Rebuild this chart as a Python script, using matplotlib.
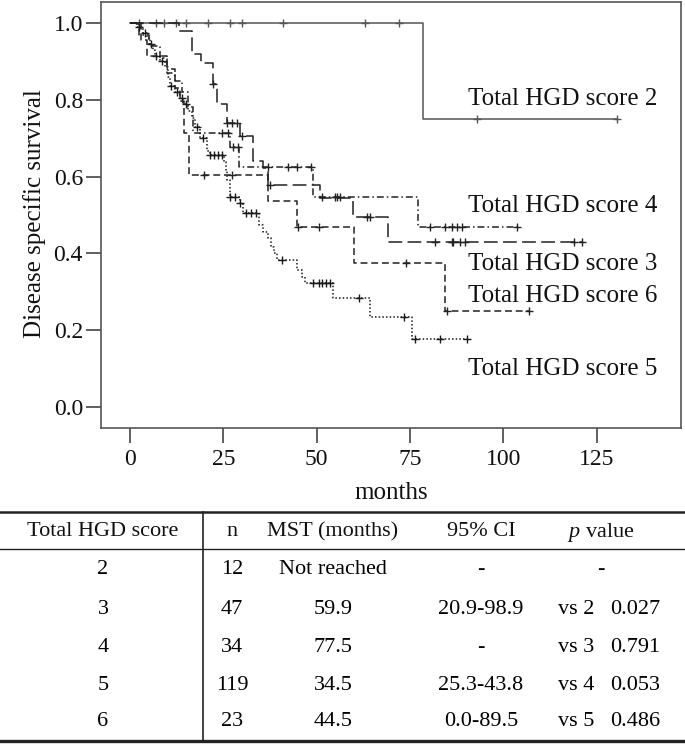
import numpy as np
import matplotlib
matplotlib.use("Agg")
import matplotlib.pyplot as plt
from matplotlib.lines import Line2D

plt.rcParams['font.family'] = ['Liberation Serif', 'DejaVu Serif']
plt.rcParams['mathtext.fontset'] = 'custom'
plt.rcParams['mathtext.rm'] = 'Liberation Serif'
plt.rcParams['mathtext.it'] = 'Liberation Serif:italic'

# Kaplan-Meier steps (months, survival after step)
t2 = [0, 78.5, 130.5]
s2 = [1.0, 0.75, 0.75]
c2 = [2.4, 7.0, 9.0, 12.3, 15.0, 21.0, 26.7, 30.0, 41.0, 63.0, 72.0, 93.0, 130.5]

t3 = [0, 13.0, 16.5, 19.0, 22.3, 23.2, 25.9, 29.5, 32.8, 35.5, 37.0, 51.0, 59.7, 69.1, 121.0]
s3 = [1.0, 0.979, 0.92, 0.895, 0.84, 0.79, 0.74, 0.706, 0.641, 0.623, 0.577, 0.545, 0.494, 0.43, 0.43]
c3 = [22.3, 25.9, 27.2, 28.6, 29.9, 37.5, 63.4, 64.3, 81.7, 86.2, 86.6, 88.4, 89.7, 118.8, 121.0]

t4 = [0, 2.5, 5.0, 8.0, 10.0, 12.0, 14.0, 15.5, 16.9, 26.8, 29.3, 49.1, 77.1, 103.6]
s4 = [1.0, 0.97, 0.94, 0.91, 0.88, 0.85, 0.82, 0.78, 0.714, 0.677, 0.625, 0.547, 0.469, 0.469]
c4 = [24.6, 26.3, 27.7, 29.0, 37.0, 42.4, 44.6, 48.4, 51.3, 54.9, 55.5, 56.3,
      80.4, 84.4, 86.2, 87.5, 88.8, 103.6]

t5 = [0, 1.9, 3.5, 4.6, 5.4, 6.2, 6.7, 8.0, 9.4, 10.2, 10.7, 12.0, 13.4, 14.2, 15.5,
      16.6, 17.4, 18.8, 20.6, 21.5, 25.2, 25.6, 26.0, 26.8, 29.5, 30.3, 34.6, 35.6,
      37.0, 37.8, 38.5, 39.4, 44.7, 46.0, 46.9, 54.4, 64.3, 75.5, 90.3]
s5 = [1.0, 0.99, 0.975, 0.96, 0.945, 0.93, 0.915, 0.9, 0.885, 0.86, 0.835, 0.82, 0.805,
      0.79, 0.77, 0.753, 0.73, 0.70, 0.667, 0.655, 0.637, 0.615, 0.59, 0.546, 0.53,
      0.504, 0.475, 0.455, 0.44, 0.416, 0.40, 0.382, 0.356, 0.338, 0.322, 0.283,
      0.234, 0.177, 0.177]
c5 = [2.5, 4.0, 5.5, 7.0, 8.5, 11.0, 12.5, 13.8, 15.0, 18.0, 19.5, 21.5, 22.5, 23.5,
      24.5, 26.8, 28.1, 29.5, 31.0, 32.3, 33.6, 40.6, 49.1, 50.5, 51.5, 52.5, 53.5,
      61.2, 73.4, 76.3, 83.0, 90.3]

t6 = [0, 3.0, 4.5, 10.0, 12.0, 13.5, 14.5, 15.8, 37.0, 44.7, 59.9, 84.4, 107.0]
s6 = [1.0, 0.957, 0.913, 0.87, 0.83, 0.797, 0.714, 0.603, 0.537, 0.468, 0.374, 0.25, 0.25]
c6 = [19.8, 27.2, 45.1, 50.7, 73.9, 84.9, 107.0]

curve_labels = ['Total HGD score 2', 'Total HGD score 4', 'Total HGD score 3',
                'Total HGD score 6', 'Total HGD score 5']
label_y = [0.802, 0.524, 0.372, 0.290, 0.100]
label_x = 90.5

# table values
tbl_header = ['Total HGD score', 'n', 'MST (months)', '95% CI', '$p$ value']
tbl_score = ['2', '3', '4', '5', '6']
tbl_n = ['12', '47', '34', '119', '23']
tbl_mst = ['Not reached', '59.9', '77.5', '34.5', '44.5']
tbl_ci = ['-', '20.9-98.9', '-', '25.3-43.8', '0.0-89.5']
tbl_vs = ['', 'vs 2', 'vs 3', 'vs 4', 'vs 5']
tbl_p = ['-', '0.027', '0.791', '0.053', '0.486']

W, H = 685, 747
fig = plt.figure(figsize=(W / 100, H / 100), dpi=100)
ax = fig.add_axes([101 / W, 1 - 428 / H, 580 / W, 426 / H])

def km(ax, t, s, c, color, dashes):
    t = np.array(t)
    s = np.array(s)
    ln, = ax.step(t, s, where='post', color=color, lw=1.1)
    if dashes is not None:
        ln.set_dashes(dashes)
    idx = np.searchsorted(t, np.array(c), side='right') - 1
    idx = np.clip(idx, 0, len(s) - 1)
    ax.plot(c, s[idx], ls='none', marker='+', ms=6, mew=1.0, color=color)

km(ax, t2, s2, c2, '#555555', None)
km(ax, t3, s3, c3, '#222222', (9, 3.5))
km(ax, t4, s4, c4, '#222222', (4.5, 2, 1, 2))
km(ax, t5, s5, c5, '#1a1a1a', (1, 1.4))
km(ax, t6, s6, c6, '#222222', (4.5, 2.5))

for lab, yy in zip(curve_labels, label_y):
    ax.text(label_x, yy, lab, fontsize=18, ha='left', va='center', color='#111111')

ax.set_xlim(-7.8, 147.6)
ax.set_ylim(-0.0547, 1.0547)
ax.set_xticks([0, 25, 50, 75, 100, 125])
ax.set_yticks([0.0, 0.2, 0.4, 0.6, 0.8, 1.0])
ax.set_yticklabels(['0.0', '0.2', '0.4', '0.6', '0.8', '1.0'])
ax.tick_params(direction='out', length=11, width=1.2, colors='#444444',
               labelcolor='#111111', labelsize=17)
ax.tick_params(axis='x', pad=4)
ax.tick_params(axis='y', pad=2)
for sp in ax.spines.values():
    sp.set_color('#555555')
    sp.set_linewidth(1.2)

fig.text(35 / W, 1 - 214 / H, 'Disease specific survival', rotation=90,
         ha='center', va='center', fontsize=18, color='#111111')
fig.text(391 / W, 1 - 493 / H, 'months', ha='center', va='center',
         fontsize=18, color='#111111')

# table
def hline(y, lw):
    fig.add_artist(Line2D([0, 1], [1 - y / H, 1 - y / H], color='#222222', lw=lw))

hline(512, 1.8)
hline(549, 1.0)
hline(741, 2.4)
fig.add_artist(Line2D([203 / W, 203 / W], [1 - 512 / H, 1 - 741 / H], color='#222222', lw=1.2))

col_x = [103, 232, 333, 481, 601]
fs = 16
for x, h in zip(col_x, tbl_header):
    fig.text(x / W, 1 - 532 / H, h, ha='center', va='center', fontsize=fs, color='#111111')

row_y = [570, 609, 647, 685, 722]
for i, y in enumerate(row_y):
    yy = 1 - y / H
    fig.text(col_x[0] / W, yy, tbl_score[i], ha='center', va='center', fontsize=fs)
    fig.text(col_x[1] / W, yy, tbl_n[i], ha='center', va='center', fontsize=fs)
    fig.text(col_x[2] / W, yy, tbl_mst[i], ha='center', va='center', fontsize=fs)
    fig.text(col_x[3] / W, yy, tbl_ci[i], ha='center', va='center', fontsize=fs)
    if tbl_vs[i]:
        fig.text(558 / W, yy, tbl_vs[i], ha='left', va='center', fontsize=fs)
        fig.text(610 / W, yy, tbl_p[i], ha='left', va='center', fontsize=fs)
    else:
        fig.text(col_x[4] / W, yy, tbl_p[i], ha='center', va='center', fontsize=fs)

fig.savefig('out.png', dpi=100)
